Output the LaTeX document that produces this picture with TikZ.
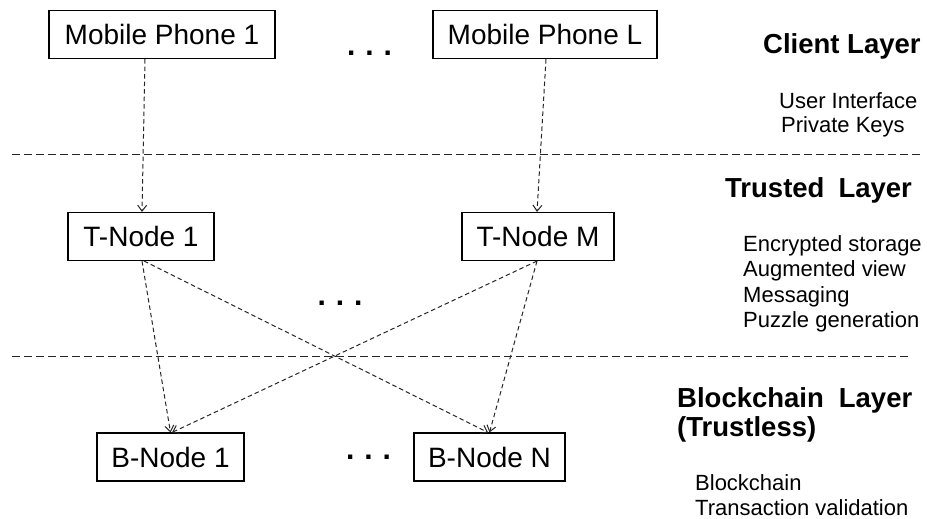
\documentclass[tikz,border=0pt]{standalone}
\usepackage{fontspec}
\setmainfont{Liberation Sans}
\usetikzlibrary{arrows.meta,calc}
\begin{document}
\begin{tikzpicture}[x=1pt,y=-1pt,
  box/.style={draw=black,line width=1.1pt,minimum height=48pt,inner sep=0pt,font=\fontsize{28}{32}\selectfont},
  conn/.style={draw=black!85,line width=1pt,dash pattern=on 4.5pt off 3pt,-{Straight Barb[length=6pt,width=9pt,line width=1pt]}},
  layerline/.style={draw=black!85,line width=1pt,dash pattern=on 7.5pt off 4.5pt},
  dots/.style={anchor=base,font=\bfseries\fontsize{30}{32}\selectfont,inner sep=0pt},
  title/.style={anchor=base west,inner sep=0pt,font=\bfseries\fontsize{27.5}{30}\selectfont},
  item/.style={anchor=base west,inner sep=0pt,font=\fontsize{22}{24}\selectfont}]
\useasboundingbox (0,0) rectangle (927,519);

% boxes
\node[box,minimum width=226pt] (p1) at (162,34.5) {Mobile Phone 1};
\node[box,minimum width=224pt] (pL) at (545,34.5) {Mobile Phone L};
\node[box,minimum width=146pt] (t1) at (141,236.5) {T-Node 1};
\node[box,minimum width=152pt] (tM) at (538,236.5) {T-Node M};
\node[box,minimum width=147pt] (b1) at (170.5,457) {B-Node 1};
\node[box,minimum width=151pt] (bN) at (489.5,457) {B-Node N};

% dots
\node[dots] (d1) at (369.5,56) {.\,\,.\,\,.};
\node[dots] (d2) at (340,305) {.\,\,.\,\,.};
\node[dots] (d3) at (368.5,459) {.\,\,.\,\,.};

% layer separators
\coordinate (l1a) at (12,154);
\coordinate (l1b) at (922,154);
\coordinate (l2a) at (12,356);
\coordinate (l2b) at (912,356);
\draw[layerline] (l1a) -- (l1b);
\draw[layerline] (l2a) -- (l2b);

% connectors
\draw[conn] ([xshift=-17pt]p1.south) -- ([xshift=1pt]t1.north);
\draw[conn] ([xshift=1pt]pL.south) -- ([xshift=-1pt]tM.north);
\draw[conn] ([xshift=1pt]t1.south) -- ([xshift=0pt]b1.north);
\draw[conn] ([xshift=3pt]t1.south) -- ([xshift=-1.5pt]bN.north);
\draw[conn] ([xshift=-1pt]tM.south) -- ([xshift=1.5pt]b1.north);
\draw[conn] ([xshift=-1pt]tM.south) -- ([xshift=0pt]bN.north);

% layer labels
\node[title] (cl) at (763,54) {Client Layer};
\node[item] (c1) at (779,108) {User Interface};
\node[item] (c2) at (781,132) {Private Keys};

\node[title] (tl) at (725,197) {Trusted\hspace{14pt}Layer};
\node[item] (ti1) at (743,251) {Encrypted storage};
\node[item] (ti2) at (743,276.5) {Augmented view};
\node[item] (ti3) at (743,302) {Messaging};
\node[item] (ti4) at (743,327.5) {Puzzle generation};

\node[title] (bl) at (677,407) {Blockchain\hspace{15pt}Layer};
\node[title] (bl2) at (677,436) {(Trustless)};
\node[item] (bi1) at (695,490) {Blockchain};
\node[item] (bi2) at (695,515) {Transaction validation};
\end{tikzpicture}
\end{document}
